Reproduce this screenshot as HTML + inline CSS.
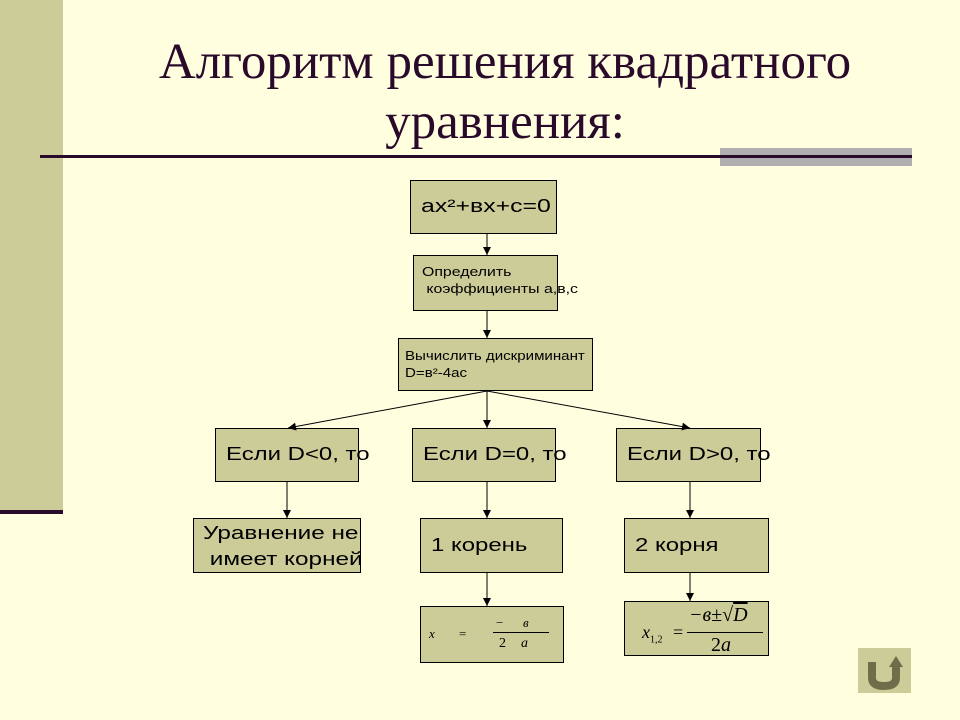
<!DOCTYPE html>
<html><head><meta charset="utf-8"><style>
body{margin:0;width:960px;height:720px;background:#ffffe0;position:relative;overflow:hidden;font-family:"Liberation Sans",sans-serif}
.b{position:absolute;background:#cccc99;border:1px solid #000;box-sizing:border-box;color:#000;white-space:nowrap}
.s{display:inline-block;transform-origin:0 0}
.t{position:absolute;font-family:"Liberation Serif",serif;color:#2a0a2a;font-size:51px;text-align:center;width:960px;left:25px}
</style></head><body>
<div style="position:absolute;left:0;top:0;width:63px;height:512px;background:#cccc99"></div>
<div style="position:absolute;left:0;top:510px;width:63px;height:4px;background:#2a0a2a"></div>
<div class="t" style="top:33px">Алгоритм решения квадратного</div>
<div class="t" style="top:93px">уравнения:</div>
<div style="position:absolute;left:720px;top:148px;width:192px;height:18px;background:#b0aeb0"></div>
<div style="position:absolute;left:40px;top:155px;width:872px;height:3px;background:#2a0a2a"></div>

<div class="b" style="left:410px;top:180px;width:147px;height:54px;font-size:18px;padding:15px 0 0 10px"><span class="s" style="transform:scaleX(1.38)">ax²+вx+c=0</span></div>
<div class="b" style="left:413px;top:255px;width:145px;height:56px;font-size:13px;padding:7px 0 0 8px;line-height:17px"><span class="s" style="transform:scaleX(1.22)">Определить<br>&nbsp;коэффициенты а,в,с</span></div>
<div class="b" style="left:398px;top:338px;width:195px;height:53px;font-size:13px;padding:8px 0 0 6px;line-height:17px"><span class="s" style="transform:scaleX(1.16)">Вычислить дискриминант<br>D=в²-4ас</span></div>
<div class="b" style="left:215px;top:428px;width:144px;height:54px;font-size:18px;padding:15px 0 0 10px"><span class="s" style="transform:scaleX(1.33)">Если D&lt;0, то</span></div>
<div class="b" style="left:412px;top:428px;width:144px;height:54px;font-size:18px;padding:15px 0 0 10px"><span class="s" style="transform:scaleX(1.33)">Если D=0, то</span></div>
<div class="b" style="left:616px;top:428px;width:145px;height:54px;font-size:18px;padding:15px 0 0 10px"><span class="s" style="transform:scaleX(1.33)">Если D&gt;0, то</span></div>
<div class="b" style="left:193px;top:518px;width:168px;height:55px;font-size:18px;padding:1px 0 0 9px;line-height:26px"><span class="s" style="transform:scaleX(1.35)">Уравнение не<br>&nbsp;имеет корней</span></div>
<div class="b" style="left:420px;top:518px;width:143px;height:55px;font-size:18px;padding:16px 0 0 10px"><span class="s" style="transform:scaleX(1.33)">1 корень</span></div>
<div class="b" style="left:624px;top:518px;width:145px;height:55px;font-size:18px;padding:16px 0 0 10px"><span class="s" style="transform:scaleX(1.33)">2 корня</span></div>
<div class="b" style="left:420px;top:606px;width:144px;height:57px;font-family:'Liberation Serif',serif;font-style:italic">
 <span style="position:absolute;left:8px;top:19px;font-size:13px">x</span>
 <span style="position:absolute;left:38px;top:19px;font-size:13px;font-style:normal">=</span>
 <span style="position:absolute;left:75px;top:8px;font-size:13px;font-style:normal">−</span>
 <span style="position:absolute;left:102px;top:8px;font-size:13px">в</span>
 <div style="position:absolute;left:72px;top:25px;width:56px;height:1px;background:#000"></div>
 <span style="position:absolute;left:78px;top:29px;font-size:14px;font-style:normal">2</span>
 <span style="position:absolute;left:100px;top:29px;font-size:14px">a</span>
</div>
<div class="b" style="left:624px;top:601px;width:145px;height:55px;font-family:'Liberation Serif',serif;font-style:italic">
 <span style="position:absolute;left:17px;top:20px;font-size:18px">x<sub style="font-size:10px;font-style:normal">1,2</sub></span>
 <span style="position:absolute;left:48px;top:20px;font-size:18px;font-style:normal">=</span>
 <span style="position:absolute;left:64px;top:2px;font-size:20px;white-space:nowrap">−в±√<span style="text-decoration:overline">D</span></span>
 <div style="position:absolute;left:62px;top:30px;width:76px;height:1px;background:#000"></div>
 <span style="position:absolute;left:86px;top:32px;font-size:20px;font-style:normal">2<i>a</i></span>
</div>

<svg style="position:absolute;left:0;top:0" width="960" height="720">
<defs><marker id="a" markerWidth="10" markerHeight="10" refX="8" refY="4" orient="auto" markerUnits="userSpaceOnUse"><path d="M0,0 L8,4 L0,8z" fill="#000"/></marker></defs>
<g stroke="#000" stroke-width="1" marker-end="url(#a)">
<line x1="487" y1="234" x2="487" y2="255"/>
<line x1="487" y1="311" x2="487" y2="338"/>
<line x1="487" y1="391" x2="288" y2="428"/>
<line x1="487" y1="391" x2="487" y2="428"/>
<line x1="487" y1="391" x2="690" y2="428"/>
<line x1="287" y1="482" x2="287" y2="518"/>
<line x1="487" y1="482" x2="487" y2="518"/>
<line x1="690" y1="482" x2="690" y2="518"/>
<line x1="487" y1="573" x2="487" y2="606"/>
<line x1="690" y1="573" x2="690" y2="601"/>
</g>
<rect x="858" y="648" width="53" height="45" fill="#cccc99"/>
<path d="M872,662 V678 Q872,686 884,686 Q896,686 896,678 V666" fill="none" stroke="#6e6e4a" stroke-width="8"/>
<path d="M889,667 L896,656 L903,667z" fill="#6e6e4a"/>
</svg>
</body></html>
